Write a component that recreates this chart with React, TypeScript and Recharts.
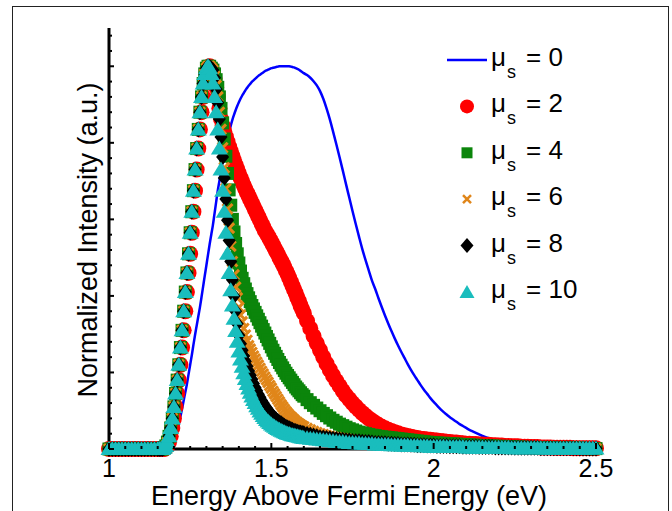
import { ComposedChart, Label, Legend, Line, Scatter, XAxis, YAxis } from "recharts"

const FONT = "Arial, 'Liberation Sans', Helvetica, sans-serif"

// energy grid (eV): [start, end, step] - finer where the curves are steep
const energySegments = [
  [1.0, 1.14, 0.01],
  [1.15, 1.6, 0.005],
  [1.61, 2.5, 0.01],
]

const majorXTicks = [1, 1.5, 2, 2.5]
const xMinorStep = 0.05
const yMinorStep = 0.04
const yMajorStep = 0.2

// legend values of mu_s
const muLabels = ["0", "2", "4", "6", "8", "10"]

const baseline = [0, 0, 0, 0, 0, 0, 0, 0, 0, 0, 0, 0, 0, 0, 0] // 1.00 - 1.14

// mu_s = 0, from 1.15 eV
const mu0Curve = [
  0, 0, 0, 0, 0, 0, 0, 0.001, 0.003, 0.008,
  0.018, 0.03, 0.047, 0.065, 0.085, 0.105, 0.127, 0.148, 0.17, 0.195,
  0.22, 0.245, 0.272, 0.298, 0.322, 0.346, 0.37, 0.397, 0.425, 0.453,
  0.48, 0.508, 0.535, 0.56, 0.585, 0.615, 0.645, 0.675, 0.7, 0.725,
  0.75, 0.77, 0.79, 0.81, 0.828, 0.845, 0.86, 0.873, 0.885, 0.896,
  0.906, 0.915, 0.923, 0.93, 0.937, 0.943, 0.949, 0.954, 0.959, 0.963,
  0.967, 0.971, 0.975, 0.978, 0.981, 0.984, 0.987, 0.989, 0.991, 0.993,
  0.995, 0.996, 0.997, 0.998, 0.999, 1.0, 1.0, 1.0, 1.0, 1.0,
  1.0, 1.0, 0.999, 0.998, 0.997, 0.995, 0.993, 0.991, 0.988, 0.985,
  0.982,
  0.977, 0.97, 0.961, 0.95, 0.935, 0.915, 0.89, 0.862, 0.83, 0.797,
  0.763, 0.728, 0.692, 0.657, 0.622, 0.588, 0.555, 0.523, 0.494, 0.467,
  0.44, 0.418, 0.394, 0.371, 0.349, 0.328, 0.308, 0.289, 0.271, 0.254,
  0.238, 0.222, 0.207, 0.193, 0.18, 0.167, 0.155, 0.144, 0.133, 0.123,
  0.114, 0.105, 0.097, 0.09, 0.083, 0.077, 0.071, 0.065, 0.06, 0.055,
  0.05, 0.046, 0.042, 0.038, 0.034, 0.031, 0.028, 0.025, 0.022, 0.02,
  0.017, 0.015, 0.013, 0.011, 0.009, 0.008, 0.006, 0.005, 0.004, 0.003,
  0.002, 0.002, 0.001, 0.001, 0.001, 0, 0, 0, 0, 0,
  0, 0, 0, 0, 0, 0, 0, 0, 0, 0,
]

// rising edge 1.150 - 1.305 eV
const mu2Onset = [
  0, 0, 0, 0, 0, 0.003, 0.008, 0.018, 0.033, 0.055,
  0.08, 0.11, 0.145, 0.18, 0.22, 0.265, 0.31, 0.36, 0.41, 0.46,
  0.51, 0.565, 0.62, 0.675, 0.73, 0.785, 0.835, 0.88, 0.92, 0.955,
  0.98, 0.995,
]
// shared by mu_s = 4, 6, 8, 10
const commonOnset = [
  0, 0, 0, 0, 0.003, 0.008, 0.018, 0.033, 0.055, 0.08,
  0.11, 0.145, 0.18, 0.22, 0.265, 0.31, 0.36, 0.41, 0.46, 0.51,
  0.565, 0.62, 0.675, 0.73, 0.785, 0.835, 0.88, 0.92, 0.955, 0.98,
  0.995, 1.0,
]

// falling side from 1.310 eV to 2.5 eV
const mu2Tail = [
  1.0, 0.995, 0.985, 0.968, 0.945, 0.92, 0.89, 0.862, 0.845, 0.83,
  0.816, 0.803, 0.79, 0.778, 0.766, 0.754, 0.742, 0.731, 0.72, 0.709,
  0.699, 0.689, 0.679, 0.67, 0.661, 0.652, 0.643, 0.634, 0.625, 0.616,
  0.607, 0.598, 0.589, 0.58, 0.571, 0.564, 0.557, 0.549, 0.541, 0.533,
  0.525, 0.517, 0.509, 0.5, 0.492, 0.484, 0.475, 0.466, 0.457, 0.447,
  0.437, 0.427, 0.417, 0.407, 0.396, 0.386, 0.375, 0.365, 0.355,
  0.335, 0.315, 0.295, 0.276, 0.258, 0.24, 0.223, 0.207, 0.192, 0.178,
  0.165, 0.152, 0.14, 0.13, 0.12, 0.111, 0.102, 0.094, 0.087, 0.08,
  0.074, 0.068, 0.063, 0.058, 0.054, 0.05, 0.047, 0.044, 0.041, 0.038,
  0.036, 0.034, 0.032, 0.03, 0.029, 0.027, 0.026, 0.025, 0.024, 0.023,
  0.022, 0.021, 0.02, 0.019, 0.018, 0.017, 0.017, 0.016, 0.015, 0.014,
  0.014, 0.013, 0.013, 0.012, 0.012, 0.011, 0.011, 0.01, 0.01, 0.009,
  0.009, 0.008, 0.008, 0.007, 0.007, 0.007, 0.006, 0.006, 0.006, 0.005,
  0.005, 0.005, 0.004, 0.004, 0.004, 0.004, 0.003, 0.003, 0.003, 0.003,
  0.003, 0.003, 0.002, 0.002, 0.002, 0.002, 0.002, 0.002, 0.002, 0.002,
]
const mu4Tail = [
  1.0, 0.995, 0.99, 0.98, 0.965, 0.945, 0.92, 0.89, 0.852, 0.81,
  0.765, 0.72, 0.677, 0.637, 0.6, 0.567, 0.537, 0.51, 0.486, 0.465,
  0.446, 0.432, 0.418, 0.406, 0.395, 0.385, 0.375, 0.366, 0.357, 0.348,
  0.339, 0.33, 0.321, 0.312, 0.303, 0.294, 0.285, 0.276, 0.267, 0.258,
  0.25, 0.242, 0.234, 0.226, 0.219, 0.212, 0.205, 0.198, 0.192, 0.186,
  0.18, 0.174, 0.168, 0.162, 0.157, 0.152, 0.147, 0.142, 0.138,
  0.129, 0.121, 0.114, 0.107, 0.1, 0.093, 0.087, 0.081, 0.075, 0.07,
  0.065, 0.061, 0.057, 0.053, 0.05, 0.047, 0.044, 0.042, 0.04, 0.038,
  0.036, 0.035, 0.033, 0.032, 0.031, 0.03, 0.029, 0.028, 0.027, 0.026,
  0.025, 0.024, 0.023, 0.022, 0.021, 0.02, 0.019, 0.018, 0.017, 0.016,
  0.016, 0.015, 0.015, 0.014, 0.014, 0.013, 0.013, 0.012, 0.012, 0.011,
  0.011, 0.01, 0.01, 0.009, 0.009, 0.009, 0.008, 0.008, 0.007, 0.007,
  0.007, 0.006, 0.006, 0.006, 0.005, 0.005, 0.005, 0.004, 0.004, 0.004,
  0.004, 0.003, 0.003, 0.003, 0.003, 0.003, 0.002, 0.002, 0.002, 0.002,
  0.002, 0.002, 0.002, 0.002, 0.002, 0.002, 0.001, 0.001, 0.001, 0.001,
]
const mu6Tail = [
  1.0, 0.995, 0.99, 0.975, 0.95, 0.92, 0.88, 0.835, 0.787, 0.735,
  0.68, 0.627, 0.577, 0.53, 0.49, 0.455, 0.423, 0.395, 0.37, 0.35,
  0.332, 0.315, 0.298, 0.284, 0.27, 0.261, 0.252, 0.243, 0.235, 0.227,
  0.219, 0.211, 0.203, 0.196, 0.188, 0.181, 0.174, 0.166, 0.159, 0.151,
  0.144, 0.137, 0.13, 0.123, 0.116, 0.11, 0.104, 0.098, 0.093, 0.088,
  0.084, 0.08, 0.076, 0.072, 0.069, 0.066, 0.063, 0.06, 0.058,
  0.054, 0.05, 0.046, 0.043, 0.04, 0.038, 0.035, 0.033, 0.031, 0.03,
  0.028, 0.027, 0.026, 0.024, 0.023, 0.022, 0.021, 0.02, 0.02, 0.019,
  0.018, 0.018, 0.017, 0.016, 0.016, 0.015, 0.015, 0.014, 0.014, 0.013,
  0.013, 0.012, 0.012, 0.012, 0.011, 0.011, 0.01, 0.01, 0.01, 0.009,
  0.009, 0.009, 0.008, 0.008, 0.008, 0.008, 0.007, 0.007, 0.007, 0.007,
  0.006, 0.006, 0.006, 0.006, 0.006, 0.005, 0.005, 0.005, 0.005, 0.005,
  0.004, 0.004, 0.004, 0.004, 0.004, 0.004, 0.003, 0.003, 0.003, 0.003,
  0.003, 0.003, 0.003, 0.003, 0.002, 0.002, 0.002, 0.002, 0.002, 0.002,
  0.002, 0.002, 0.002, 0.002, 0.002, 0.002, 0.001, 0.001, 0.001, 0.001,
]
const mu8Tail = [
  0.998, 0.995, 0.99, 0.97, 0.94, 0.905, 0.862, 0.815, 0.763, 0.708,
  0.653, 0.598, 0.545, 0.49, 0.442, 0.4, 0.36, 0.327, 0.297, 0.275,
  0.258, 0.243, 0.229, 0.216, 0.204, 0.193, 0.182, 0.171, 0.161, 0.152,
  0.143, 0.135, 0.127, 0.12, 0.113, 0.107, 0.101, 0.095, 0.09, 0.085,
  0.081, 0.077, 0.073, 0.07, 0.067, 0.064, 0.061, 0.058, 0.056, 0.054,
  0.052, 0.05, 0.048, 0.047, 0.045, 0.044, 0.043, 0.042, 0.041,
  0.039, 0.037, 0.035, 0.033, 0.031, 0.03, 0.029, 0.028, 0.027, 0.026,
  0.025, 0.024, 0.023, 0.022, 0.021, 0.02, 0.02, 0.019, 0.018, 0.018,
  0.017, 0.016, 0.016, 0.015, 0.015, 0.014, 0.014, 0.013, 0.013, 0.012,
  0.012, 0.012, 0.011, 0.011, 0.01, 0.01, 0.01, 0.009, 0.009, 0.009,
  0.008, 0.008, 0.008, 0.008, 0.007, 0.007, 0.007, 0.007, 0.006, 0.006,
  0.006, 0.006, 0.006, 0.005, 0.005, 0.005, 0.005, 0.005, 0.004, 0.004,
  0.004, 0.004, 0.004, 0.004, 0.003, 0.003, 0.003, 0.003, 0.003, 0.003,
  0.003, 0.003, 0.002, 0.002, 0.002, 0.002, 0.002, 0.002, 0.002, 0.002,
  0.002, 0.002, 0.002, 0.002, 0.001, 0.001, 0.001, 0.001, 0.001, 0.001,
]
const mu10Tail = [
  0.995, 0.98, 0.955, 0.92, 0.88, 0.835, 0.785, 0.73, 0.675, 0.62,
  0.565, 0.51, 0.46, 0.415, 0.375, 0.34, 0.308, 0.28, 0.255, 0.234,
  0.215, 0.198, 0.183, 0.17, 0.158, 0.147, 0.137, 0.128, 0.12, 0.112,
  0.105, 0.098, 0.092, 0.086, 0.081, 0.076, 0.072, 0.068, 0.064, 0.061,
  0.058, 0.055, 0.052, 0.05, 0.048, 0.046, 0.044, 0.042, 0.04, 0.039,
  0.037, 0.036, 0.035, 0.034, 0.033, 0.032, 0.031, 0.03, 0.029,
  0.028, 0.027, 0.026, 0.025, 0.024, 0.023, 0.022, 0.021, 0.02, 0.019,
  0.018, 0.018, 0.017, 0.016, 0.016, 0.015, 0.015, 0.014, 0.014, 0.013,
  0.013, 0.012, 0.012, 0.011, 0.011, 0.011, 0.01, 0.01, 0.01, 0.009,
  0.009, 0.009, 0.008, 0.008, 0.008, 0.007, 0.007, 0.007, 0.006, 0.006,
  0.006, 0.006, 0.006, 0.005, 0.005, 0.005, 0.005, 0.005, 0.005, 0.004,
  0.004, 0.004, 0.004, 0.004, 0.004, 0.003, 0.003, 0.003, 0.003, 0.003,
  0.003, 0.003, 0.003, 0.002, 0.002, 0.002, 0.002, 0.002, 0.002, 0.002,
  0.002, 0.002, 0.002, 0.001, 0.001, 0.001, 0.001, 0.001, 0.001, 0.001,
  0.001, 0.001, 0.001, 0.001, 0.001, 0.001, 0.001, 0.001, 0.001, 0.001,
]

const mu0 = [...baseline, ...mu0Curve]
const mu2 = [...baseline, ...mu2Onset, ...mu2Tail]
const mu4 = [...baseline, ...commonOnset, ...mu4Tail]
const mu6 = [...baseline, ...commonOnset, ...mu6Tail]
const mu8 = [...baseline, ...commonOnset, ...mu8Tail]
const mu10 = [...baseline, ...commonOnset, ...mu10Tail]

const COLORS = {
  blue: "#0000ff",
  red: "#ff0000",
  green: "#0b850b",
  orange: "#e0861a",
  black: "#000000",
  cyan: "#19bdbd",
}

function steps(start: number, end: number, step: number) {
  const n = Math.round((end - start) / step)
  const out: number[] = []
  for (let i = 0; i <= n; i++) out.push(Math.round((start + i * step) * 1000) / 1000)
  return out
}

const energy = energySegments.flatMap(([a, b, s]) => steps(a, b, s))

const data = energy.map((E, i) => ({
  E,
  mu0: mu0[i],
  mu2: mu2[i],
  mu4: mu4[i],
  mu6: mu6[i],
  mu8: mu8[i],
  mu10: mu10[i],
}))

const xTicks = steps(1, 2.5, xMinorStep)
const yTicks = steps(0, 1.08, yMinorStep)

// marker shapes
const redDot = (p: any) => <circle cx={p.cx} cy={p.cy} r={8} fill={COLORS.red} />
const greenSquare = (p: any) => (
  <rect x={p.cx - 6.5} y={p.cy - 6.5} width={13} height={13} fill={COLORS.green} />
)
const orangeCross = (p: any) => (
  <path
    d={`M${p.cx - 5},${p.cy - 5}L${p.cx + 5},${p.cy + 5}M${p.cx - 5},${p.cy + 5}L${p.cx + 5},${p.cy - 5}`}
    stroke={COLORS.orange}
    strokeWidth={3}
  />
)
const blackDiamond = (p: any) => (
  <polygon
    points={`${p.cx},${p.cy - 8} ${p.cx + 6.5},${p.cy} ${p.cx},${p.cy + 8} ${p.cx - 6.5},${p.cy}`}
    fill={COLORS.black}
  />
)
const cyanTriangle = (p: any) => (
  <polygon
    points={`${p.cx},${p.cy - 8} ${p.cx + 8.5},${p.cy + 6} ${p.cx - 8.5},${p.cy + 6}`}
    fill={COLORS.cyan}
  />
)

function XTick(props: any) {
  const { x, y, payload } = props
  const v = payload.value
  const major = majorXTicks.some((m) => Math.abs(m - v) < 1e-6)
  return (
    <g>
      <line x1={x} y1={y} x2={x} y2={y - (major ? 6 : 3)} stroke="#000" strokeWidth={2} />
      {major && (
        <text x={x} y={y + 28} textAnchor="middle" fontSize={25} fontFamily={FONT} fill="#000">
          {String(v)}
        </text>
      )}
    </g>
  )
}

function YTick(props: any) {
  const { x, y, payload } = props
  const r = payload.value / yMajorStep
  const major = Math.abs(r - Math.round(r)) < 1e-6
  return <line x1={x} y1={y} x2={x + (major ? 5 : 3)} y2={y} stroke="#000" strokeWidth={2} />
}

function legendMarker(i: number, cx: number, cy: number) {
  switch (i) {
    case 0:
      return <line x1={cx - 20} y1={cy} x2={cx + 20} y2={cy} stroke={COLORS.blue} strokeWidth={2.5} />
    case 1:
      return <circle cx={cx} cy={cy} r={7} fill={COLORS.red} />
    case 2:
      return <rect x={cx - 5.5} y={cy - 5.5} width={11} height={11} fill={COLORS.green} />
    case 3:
      return (
        <path
          d={`M${cx - 4},${cy - 4}L${cx + 4},${cy + 4}M${cx - 4},${cy + 4}L${cx + 4},${cy - 4}`}
          stroke={COLORS.orange}
          strokeWidth={2.5}
        />
      )
    case 4:
      return (
        <polygon
          points={`${cx},${cy - 7.5} ${cx + 6.5},${cy} ${cx},${cy + 7.5} ${cx - 6.5},${cy}`}
          fill={COLORS.black}
        />
      )
    default:
      return (
        <polygon
          points={`${cx},${cy - 7} ${cx + 7.5},${cy + 6} ${cx - 7.5},${cy + 6}`}
          fill={COLORS.cyan}
        />
      )
  }
}

function LegendBox() {
  return (
    <svg width={230} height={290}>
      {muLabels.map((val, i) => {
        const cy = 30 + i * 46.4
        return (
          <g key={val}>
            {legendMarker(i, 27, cy)}
            <text y={cy + 6} fontSize={26} fontFamily={FONT} fill="#000">
              <tspan x={51}>μ</tspan>
              <tspan x={67} dy={12} fontSize={18}>
                s
              </tspan>
              <tspan x={86} dy={-12}>
                = {val}
              </tspan>
            </text>
          </g>
        )
      })}
    </svg>
  )
}

export default function App() {
  return (
    <div
      style={{
        position: "absolute",
        left: 0,
        top: 0,
        width: 672,
        height: 511,
        overflow: "hidden",
        background: "#fff",
      }}
    >
      <div
        style={{
          position: "absolute",
          left: 12,
          top: 6,
          width: 657,
          height: 540,
          border: "1.5px solid #222",
          boxSizing: "border-box",
        }}
      />
      <ComposedChart width={672} height={511} data={data} margin={{ top: 28, right: 76, bottom: 0, left: 0 }}>
        <XAxis
          dataKey="E"
          type="number"
          domain={[1, 2.5]}
          ticks={xTicks}
          interval={0}
          tick={<XTick />}
          tickLine={false}
          tickSize={0}
          tickMargin={0}
          height={62}
          axisLine={{ stroke: "#000", strokeWidth: 3 }}
        >
          <Label
            content={() => (
              <text x={349} y={505} textAnchor="middle" fontSize={27} fontFamily={FONT} fill="#000">
                Energy Above Fermi Energy (eV)
              </text>
            )}
          />
        </XAxis>
        <YAxis
          type="number"
          domain={[0, 1.1]}
          ticks={yTicks}
          interval={0}
          tick={<YTick />}
          tickLine={false}
          tickSize={0}
          tickMargin={0}
          width={109}
          axisLine={{ stroke: "#000", strokeWidth: 3 }}
        >
          <Label
            content={() => (
              <text
                x={97}
                y={240}
                transform="rotate(-90, 97, 240)"
                textAnchor="middle"
                fontSize={27}
                fontFamily={FONT}
                fill="#000"
              >
                Normalized Intensity (a.u.)
              </text>
            )}
          />
        </YAxis>
        <Legend
          layout="horizontal"
          verticalAlign="middle"
          align="center"
          content={() => <LegendBox />}
          wrapperStyle={{ left: 440, top: 30, width: 230, height: 290 }}
        />
        <Line
          type="monotone"
          dataKey="mu0"
          stroke={COLORS.blue}
          strokeWidth={2.5}
          dot={false}
          activeDot={false}
          isAnimationActive={false}
        />
        <Scatter dataKey="mu2" fill={COLORS.red} shape={redDot} isAnimationActive={false} />
        <Scatter dataKey="mu4" fill={COLORS.green} shape={greenSquare} isAnimationActive={false} />
        <Scatter dataKey="mu6" fill={COLORS.orange} shape={orangeCross} isAnimationActive={false} />
        <Scatter dataKey="mu8" fill={COLORS.black} shape={blackDiamond} isAnimationActive={false} />
        <Scatter dataKey="mu10" fill={COLORS.cyan} shape={cyanTriangle} isAnimationActive={false} />
      </ComposedChart>
    </div>
  )
}
